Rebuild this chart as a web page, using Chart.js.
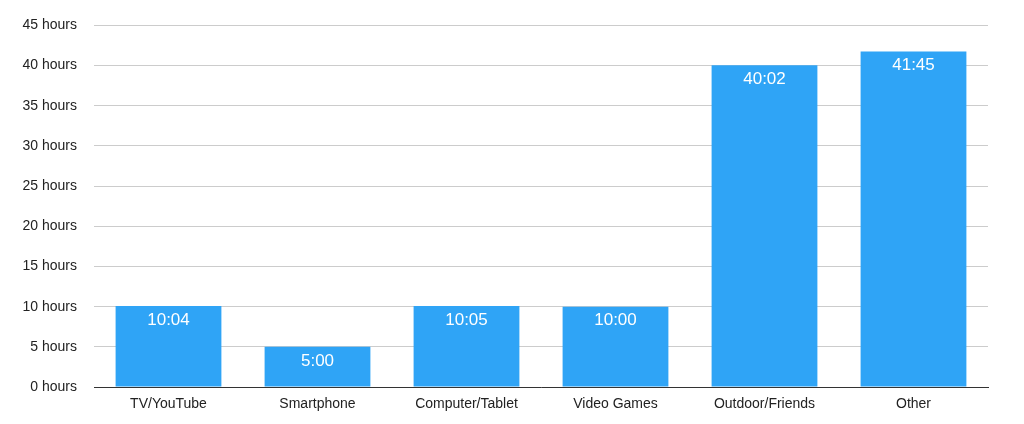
<!DOCTYPE html>
<html>
<head>
<meta charset="utf-8">
<script src="https://cdn.jsdelivr.net/npm/chart.js@4"></script>
<style>
  html, body { margin: 0; padding: 0; background: #fff; }
  #wrap { width: 1024px; height: 424px; }
</style>
</head>
<body>
<div id="wrap"><canvas id="chart" width="1024" height="424"></canvas></div>
<script>
// weekly time per activity
const categories = ["TV/YouTube", "Smartphone", "Computer/Tablet", "Video Games", "Outdoor/Friends", "Other"];
const minutesSpent = [604, 300, 605, 600, 2402, 2505];
const hoursSpent = minutesSpent.map(m => m / 60);

const fmtDuration = m => Math.floor(m / 60) + ":" + String(m % 60).padStart(2, "0");

const barLabels = {
    id: "barLabels",
    afterDatasetsDraw(chart) {
        const ctx = chart.ctx;
        const meta = chart.getDatasetMeta(0);
        ctx.save();
        ctx.font = '17px "Liberation Sans", Arial, sans-serif';
        ctx.fillStyle = "#ffffff";
        ctx.textAlign = "center";
        ctx.textBaseline = "middle";
        meta.data.forEach((bar, i) => {
            ctx.fillText(fmtDuration(minutesSpent[i]), bar.x, bar.y + 14);
        });
        ctx.restore();
    }
};

new Chart(document.getElementById("chart").getContext("2d"), {
    type: "bar",
    data: {
        labels: categories,
        datasets: [{
            data: hoursSpent,
            backgroundColor: "#2fa4f6",
            borderWidth: 0,
            categoryPercentage: 0.71,
            barPercentage: 1
        }]
    },
    options: {
        responsive: false,
        animation: false,
        layout: { padding: { top: 25, right: 36, left: 0, bottom: 0 } },
        plugins: {
            legend: { display: false },
            tooltip: { enabled: false }
        },
        scales: {
            x: {
                grid: { display: false, drawTicks: false },
                border: { display: true, color: "#333333", width: 1 },
                ticks: {
                    color: "#222222",
                    padding: 9,
                    font: { family: '"Liberation Sans", Arial, sans-serif', size: 14 }
                },
                afterFit: s => { s.height = 37; }
            },
            y: {
                min: 0,
                max: 45,
                grid: { color: "#cccccc", lineWidth: 1, drawTicks: false },
                border: { display: false },
                ticks: {
                    stepSize: 5,
                    color: "#222222",
                    padding: 17,
                    font: { family: '"Liberation Sans", Arial, sans-serif', size: 14 },
                    callback: v => v + " hours"
                },
                afterFit: s => { s.width = 94; }
            }
        }
    },
    plugins: [barLabels]
});
</script>
</body>
</html>
